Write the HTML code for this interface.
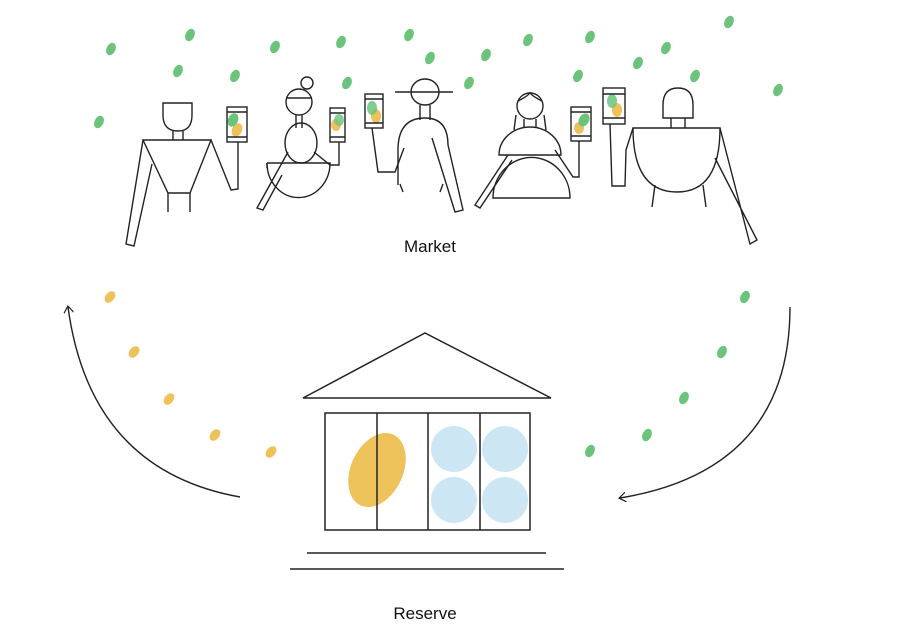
<!DOCTYPE html>
<html><head><meta charset="utf-8"><style>
html,body{margin:0;padding:0;background:#fff;}
svg{display:block}
text{font-family:"Liberation Sans",sans-serif;font-size:17px;fill:#111}
</style></head><body>
<svg width="900" height="642" viewBox="0 0 900 642" xmlns="http://www.w3.org/2000/svg">
<defs>
<marker id="ah" markerWidth="10" markerHeight="10" refX="6" refY="5" orient="auto" markerUnits="userSpaceOnUse"><path d="M0,0 L7,5 L0,10" fill="none" stroke="#222" stroke-width="1.2"/></marker>
</defs>
<g fill="#6cc47c">
<ellipse cx="111" cy="49" rx="4.5" ry="6.5" transform="rotate(25 111 49)"/>
<ellipse cx="190" cy="35" rx="4.5" ry="6.5" transform="rotate(25 190 35)"/>
<ellipse cx="275" cy="47" rx="4.5" ry="6.5" transform="rotate(25 275 47)"/>
<ellipse cx="341" cy="42" rx="4.5" ry="6.5" transform="rotate(25 341 42)"/>
<ellipse cx="409" cy="35" rx="4.5" ry="6.5" transform="rotate(25 409 35)"/>
<ellipse cx="486" cy="55" rx="4.5" ry="6.5" transform="rotate(25 486 55)"/>
<ellipse cx="528" cy="40" rx="4.5" ry="6.5" transform="rotate(25 528 40)"/>
<ellipse cx="590" cy="37" rx="4.5" ry="6.5" transform="rotate(25 590 37)"/>
<ellipse cx="666" cy="48" rx="4.5" ry="6.5" transform="rotate(25 666 48)"/>
<ellipse cx="729" cy="22" rx="4.5" ry="6.5" transform="rotate(25 729 22)"/>
<ellipse cx="178" cy="71" rx="4.5" ry="6.5" transform="rotate(25 178 71)"/>
<ellipse cx="235" cy="76" rx="4.5" ry="6.5" transform="rotate(25 235 76)"/>
<ellipse cx="347" cy="83" rx="4.5" ry="6.5" transform="rotate(25 347 83)"/>
<ellipse cx="430" cy="58" rx="4.5" ry="6.5" transform="rotate(25 430 58)"/>
<ellipse cx="469" cy="83" rx="4.5" ry="6.5" transform="rotate(25 469 83)"/>
<ellipse cx="578" cy="76" rx="4.5" ry="6.5" transform="rotate(25 578 76)"/>
<ellipse cx="638" cy="63" rx="4.5" ry="6.5" transform="rotate(25 638 63)"/>
<ellipse cx="695" cy="76" rx="4.5" ry="6.5" transform="rotate(25 695 76)"/>
<ellipse cx="778" cy="90" rx="4.5" ry="6.5" transform="rotate(25 778 90)"/>
<ellipse cx="99" cy="122" rx="4.5" ry="6.5" transform="rotate(25 99 122)"/>
<ellipse cx="745" cy="297" rx="4.5" ry="6.5" transform="rotate(25 745 297)"/>
<ellipse cx="722" cy="352" rx="4.5" ry="6.5" transform="rotate(25 722 352)"/>
<ellipse cx="684" cy="398" rx="4.5" ry="6.5" transform="rotate(25 684 398)"/>
<ellipse cx="647" cy="435" rx="4.5" ry="6.5" transform="rotate(25 647 435)"/>
<ellipse cx="590" cy="451" rx="4.5" ry="6.5" transform="rotate(25 590 451)"/>
</g>
<g fill="#eec25a">
<ellipse cx="110" cy="297" rx="4.5" ry="6.5" transform="rotate(40 110 297)"/>
<ellipse cx="134" cy="352" rx="4.5" ry="6.5" transform="rotate(40 134 352)"/>
<ellipse cx="169" cy="399" rx="4.5" ry="6.5" transform="rotate(40 169 399)"/>
<ellipse cx="215" cy="435" rx="4.5" ry="6.5" transform="rotate(40 215 435)"/>
<ellipse cx="271" cy="452" rx="4.5" ry="6.5" transform="rotate(40 271 452)"/>
</g>
<!-- phones fills -->
<g>
<ellipse cx="237" cy="130" rx="5" ry="7" fill="#eec25a" transform="rotate(25 237 130)"/>
<ellipse cx="233" cy="120" rx="5" ry="7" fill="#6cc47c" transform="rotate(25 233 120)"/>
<ellipse cx="336" cy="125" rx="5" ry="6" fill="#eec25a"/>
<ellipse cx="339" cy="120" rx="5" ry="6" fill="#6cc47c" opacity=".8"/>
<ellipse cx="376" cy="116" rx="5" ry="7" fill="#eec25a"/>
<ellipse cx="372" cy="108" rx="5" ry="7" fill="#6cc47c" opacity=".85"/>
<ellipse cx="579" cy="128" rx="5" ry="6" fill="#eec25a"/>
<ellipse cx="584" cy="120" rx="5" ry="7" fill="#6cc47c" transform="rotate(30 584 120)"/>
<ellipse cx="617" cy="110" rx="5" ry="7" fill="#eec25a"/>
<ellipse cx="612" cy="101" rx="5" ry="7" fill="#6cc47c" opacity=".85"/>
</g>
<g fill="none" stroke="#222" stroke-width="1.4" stroke-linejoin="miter">
<!-- figure 1 -->
<path d="M163,103 L192,103 L192,115 Q192,131 178,131 Q163,131 163,115 Z"/>
<path d="M173,131 L173,140 M183,131 L183,140"/>
<path d="M143,140 L211,140 L190,193 L168,193 Z"/>
<path d="M168,193 L168,212 M190,193 L190,212"/>
<path d="M143,140 L126,244 L134,246 L152,164"/>
<path d="M211,140 L231,190 L238,189 L238,142"/>
<rect x="227" y="107" width="20" height="35"/>
<path d="M227,112 L247,112 M227,137 L247,137"/>
<!-- figure 2 -->
<circle cx="307" cy="83" r="6"/>
<circle cx="299" cy="102" r="13"/>
<path d="M287,98 L311,98"/>
<path d="M296,115 L296,128 M302,115 L302,128"/>
<ellipse cx="301" cy="143" rx="16" ry="20"/>
<path d="M267,163 L330,163 A31,34 0 0 1 267,163"/>
<path d="M267,163 L267,168"/>
<path d="M288,152 L257,208 L263,210 L282,175"/>
<path d="M314,152 L330,165 L339,165 L339,142"/>
<rect x="330" y="108" width="15" height="34"/>
<path d="M330,113 L345,113 M330,137 L345,137"/>
<!-- figure 3 -->
<ellipse cx="425" cy="92" rx="14" ry="13"/>
<path d="M395,92 L453,92"/>
<path d="M420,105 L420,120 M430,105 L430,120"/>
<path d="M398,185 L398,150 Q398,118 425,118 Q448,118 448,145"/>
<path d="M400,184 L403,192 M443,184 L440,192"/>
<path d="M432,138 L455,212 L463,210 L448,145"/>
<path d="M372,128 L378,172 L395,172 L404,148"/>
<rect x="365" y="94" width="18" height="34"/>
<path d="M365,99 L383,99 M365,123 L383,123"/>
<!-- figure 4 -->
<circle cx="530" cy="106" r="13"/>
<path d="M516,115 L514,130 M544,115 L546,130 M518,101 Q530,95 530,92 Q530,95 542,101"/>
<path d="M524,119 L524,128 M536,119 L536,128"/>
<path d="M499,155 A31,28 0 0 1 561,155 Z"/>
<path d="M493,198 A38,40 0 0 1 570,198 Z"/>
<path d="M508,155 L475,205 L480,208 L512,160"/>
<path d="M555,150 L573,177 L579,177 L579,141"/>
<rect x="571" y="107" width="20" height="34"/>
<path d="M571,112 L591,112 M571,136 L591,136"/>
<!-- figure 5 -->
<path d="M663,118 L663,105 Q663,88 678,88 Q693,88 693,105 L693,118 Z"/>
<path d="M671,118 L671,128 M685,118 L685,128"/>
<path d="M633,128 L720,128 Q720,192 677,192 Q633,192 633,128 Z"/>
<path d="M655,185 L652,207 M703,185 L706,207"/>
<path d="M720,128 L750,244 L757,240 L715,158"/>
<path d="M633,128 L626,150 L625,186 L612,186 L610,124"/>
<rect x="603" y="88" width="22" height="36"/>
<path d="M603,94 L625,94 M603,118 L625,118"/>
<!-- arrows -->
<path d="M240,497 Q90,470 68,307" marker-end="url(#ah)"/>
<path d="M790,307 Q790,470 620,498" marker-end="url(#ah)"/>
</g>
<!-- building -->
<ellipse cx="377" cy="470" rx="26" ry="39" fill="#eec25a" transform="rotate(25 377 470)"/>
<g fill="#cce6f3">
<circle cx="454" cy="449" r="23"/><circle cx="505" cy="449" r="23"/>
<circle cx="454" cy="500" r="23"/><circle cx="505" cy="500" r="23"/>
</g>
<g fill="none" stroke="#222" stroke-width="1.5">
<path d="M303,398 L425,333 L551,398 Z"/>
<rect x="325" y="413" width="205" height="117"/>
<path d="M377,413 L377,530 M428,413 L428,530 M480,413 L480,530"/>
<path d="M307,553 L546,553 M290,569 L564,569"/>
</g>
<text x="430" y="252" text-anchor="middle">Market</text>
<text x="425" y="619" text-anchor="middle">Reserve</text>
</svg>
</body></html>
